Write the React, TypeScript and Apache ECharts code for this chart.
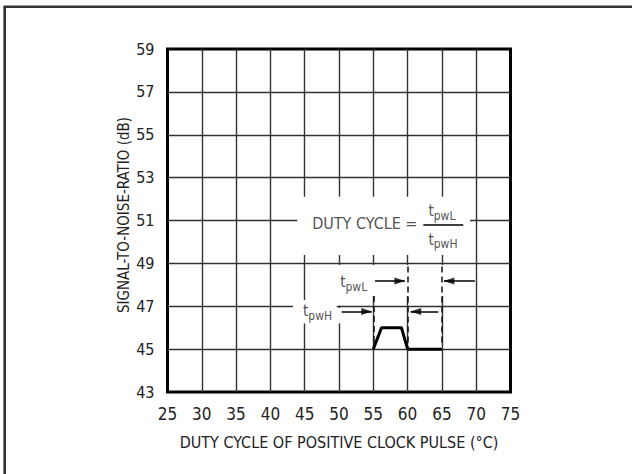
import React, { useEffect, useRef } from "react";
import * as echarts from "echarts";

// ---- axis ----
const xMin = 25;
const xMax = 75;
const xStep = 5;
const yMin = 43;
const yMax = 59;
const yStep = 2;
const xTitle = "DUTY CYCLE OF POSITIVE CLOCK PULSE (°C)";
const yTitle = "SIGNAL-TO-NOISE-RATIO (dB)";

// ---- pulse waveform ----
const pulseX = [55, 56.2, 59.1, 60, 65];
const pulseY = [45, 46, 46, 45, 45];

// ---- dashed guides ----
const dashX = [55, 60, 65];
const dashTop = [47.48, 48.85, 48.85];
const dashBottom = [45, 45, 45.19];

// ---- arrows: tail x, tip x, y, direction (1 = right, -1 = left) ----
const arrowTailX = [55.25, 69.81, 50.39, 64.47];
const arrowTipX = [59.6, 65.29, 54.77, 60.45];
const arrowY = [48.18, 48.18, 46.75, 46.75];
const arrowDir = [1, -1, 1, -1];

// ---- fraction bar ----
const barX = [62.29, 68.12];
const barY = 50.79;

// ---- white gaps in the grid behind annotations [x1, y1, x2, y2] ----
const gapX1 = [43.92, 49.56, 49.56, 43.29, 49.56];
const gapY1 = [52.11, 48.93, 47.48, 47.29, 46.92];
const gapX2 = [69.1, 69.1, 50.44, 49.66, 50.44];
const gapY2 = [49.39, 47.48, 47.04, 46.2, 46.2];

// ---- annotation texts ----
const formulaText = "DUTY CYCLE =";
const formulaPos = [46.09, 50.84];
const numeratorPos = [65.01, 51.35];
const denominatorPos = [65.16, 50.04];
const tpwLPos = [52.14, 48.04];
const tpwHPos = [46.87, 46.69];

const FONT = "'Liberation Sans Narrow', 'DejaVu Sans Condensed', sans-serif";
const TXT = "#222";

const subRich = {
  t: { fontSize: 15, lineHeight: 18, fontFamily: FONT, color: TXT, verticalAlign: "top" as const },
  s: { fontSize: 12, lineHeight: 12, fontFamily: FONT, color: TXT, verticalAlign: "bottom" as const },
};

export default function App() {
  const ref = useRef<HTMLDivElement>(null);
  useEffect(() => {
    if (!ref.current) return;
    const chart = echarts.init(ref.current, null, { renderer: "svg" });

    const gaps = gapX1.map((_, i) => [
      { coord: [gapX1[i], gapY1[i]] },
      { coord: [gapX2[i], gapY2[i]] },
    ]);

    const dashLines = dashX.map((x, i) => [
      { coord: [x, dashTop[i]] },
      { coord: [x, dashBottom[i]] },
    ]);

    const shafts = arrowTailX.map((x, i) => [
      { coord: [x, arrowY[i]] },
      { coord: [arrowTipX[i], arrowY[i]] },
    ]);

    const heads = arrowTipX.map((x, i) => ({
      value: [x, arrowY[i]],
      symbolRotate: arrowDir[i] > 0 ? -90 : 90,
      symbolOffset: [arrowDir[i] > 0 ? -5 : 5, 0],
    }));

    const labelPoint = (pos: number[], text: string) => ({
      value: pos,
      label: {
        show: true,
        position: "inside",
        align: "center",
        verticalAlign: "middle",
        formatter: text,
        rich: subRich,
        fontFamily: FONT,
        color: TXT,
      },
    });

    chart.setOption({
      animation: false,
      backgroundColor: "#fff",
      graphic: [
        { type: "line", shape: { x1: 4.7, y1: 6.7, x2: 4.7, y2: 474 }, style: { stroke: "#333", lineWidth: 2.6 } },
        { type: "line", shape: { x1: 3.5, y1: 6.7, x2: 632, y2: 6.7 }, style: { stroke: "#333", lineWidth: 2.6 } },
      ],
      grid: {
        left: 167.5,
        right: 121.5,
        top: 49,
        bottom: 82,
        show: true,
        borderColor: "#000",
        borderWidth: 3,
        backgroundColor: "transparent",
      },
      xAxis: {
        type: "value",
        min: xMin,
        max: xMax,
        interval: xStep,
        name: xTitle,
        nameLocation: "middle",
        nameGap: 42,
        nameMoveOverlap: false,
        nameTextStyle: { fontFamily: FONT, fontSize: 16, color: TXT },
        axisLine: { show: false },
        axisTick: { show: false },
        axisLabel: { margin: 13, fontFamily: FONT, fontSize: 17, color: TXT },
        splitLine: { show: true, showMinLine: false, showMaxLine: false, lineStyle: { color: "#333", width: 1.4 } },
      },
      yAxis: {
        type: "value",
        min: yMin,
        max: yMax,
        interval: yStep,
        name: yTitle,
        nameLocation: "middle",
        nameRotate: 90,
        nameGap: 36,
        nameMoveOverlap: false,
        nameTextStyle: { fontFamily: FONT, fontSize: 15, color: TXT, padding: [0, 0, 0, 11] },
        axisLine: { show: false },
        axisTick: { show: false },
        axisLabel: { margin: 13, fontFamily: FONT, fontSize: 16, color: TXT },
        splitLine: { show: true, showMinLine: false, showMaxLine: false, lineStyle: { color: "#333", width: 1.4 } },
      },
      series: [
        {
          type: "line",
          z: 1,
          data: [],
          markArea: {
            silent: true,
            itemStyle: { color: "#fff", opacity: 1, borderWidth: 0 },
            label: { show: false },
            data: gaps,
          },
        },
        {
          type: "line",
          z: 5,
          data: pulseX.map((x, i) => [x, pulseY[i]]),
          showSymbol: false,
          symbol: "none",
          lineStyle: { color: "#000", width: 3 },
          markLine: {
            silent: true,
            symbol: ["none", "none"],
            label: { show: false },
            lineStyle: { color: "#111", width: 1.5, type: [6, 4] },
            data: dashLines,
          },
        },
        {
          type: "line",
          z: 5,
          data: [],
          markLine: {
            silent: true,
            symbol: ["none", "none"],
            label: { show: false },
            lineStyle: { color: "#000", width: 1.5, type: "solid" },
            data: [
              ...shafts,
              [{ coord: [barX[0], barY] }, { coord: [barX[1], barY] }],
            ],
          },
        },
        {
          type: "scatter",
          z: 6,
          silent: true,
          symbol: "triangle",
          symbolSize: [7, 11],
          itemStyle: { color: "#000" },
          data: heads,
        },
        {
          type: "scatter",
          z: 6,
          symbol: "circle",
          symbolSize: 1,
          silent: true,
          itemStyle: { color: "rgba(0,0,0,0)" },
          data: [
            {
              value: formulaPos,
              label: {
                show: true,
                position: "inside",
                align: "left",
                verticalAlign: "middle",
                formatter: formulaText,
                fontFamily: FONT,
                fontSize: 16,
                color: TXT,
              },
            },
            labelPoint(numeratorPos, "{t|t}{s|pwL}"),
            labelPoint(denominatorPos, "{t|t}{s|pwH}"),
            labelPoint(tpwLPos, "{t|t}{s|pwL}"),
            labelPoint(tpwHPos, "{t|t}{s|pwH}"),
          ],
        },
      ],
    });
    return () => chart.dispose();
  }, []);
  return (
    <div
      ref={ref}
      style={{ position: "fixed", left: 0, top: 0, width: 632, height: 474, background: "#fff" }}
    />
  );
}
